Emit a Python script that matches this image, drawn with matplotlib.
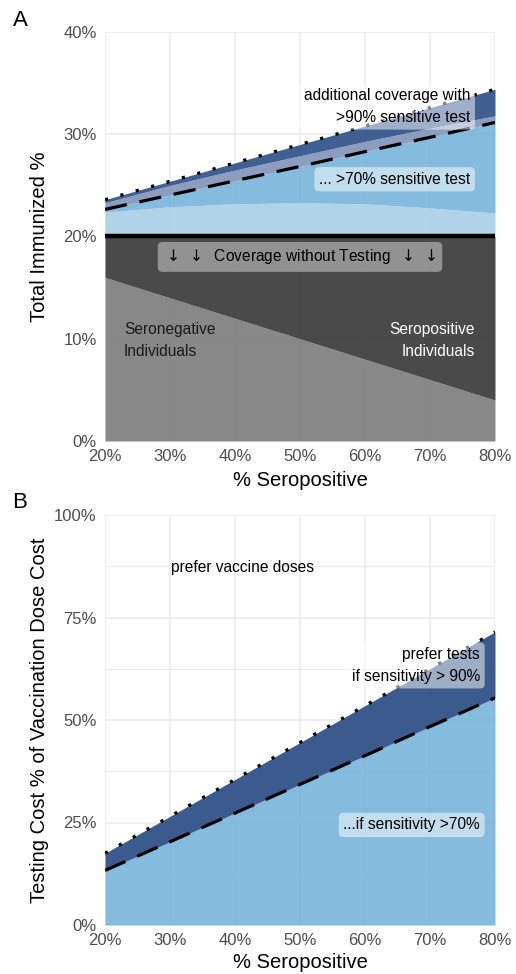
import matplotlib
matplotlib.use('Agg')
import matplotlib.pyplot as plt
from matplotlib.ticker import FixedLocator

plt.rcParams['font.family'] = ['Liberation Sans', 'DejaVu Sans']
plt.rcParams['mathtext.fontset'] = 'dejavusans'

# ---------------- data ----------------
sero = [20, 30, 40, 50, 60, 70, 80]  # % seropositive

# Panel A: total immunized %
a_seroneg = [16, 14, 12, 10, 8, 6, 4]
a_no_test = [20, 20, 20, 20, 20, 20, 20]
a_light = [22.4, 22.9, 23.2, 23.3, 23.2, 22.8, 22.3]
a_sens70 = [22.65, 24.05, 25.45, 26.85, 28.3, 29.7, 31.15]
a_slate = [23.3, 25.0, 26.5, 27.9, 29.3, 30.6, 31.8]
a_sens90 = [23.6, 25.4, 27.2, 29.0, 30.8, 32.6, 34.4]

# Panel B: testing cost % of vaccination dose cost
b_sens70 = [13.3, 20.3, 27.3, 34.3, 41.3, 48.4, 55.4]
b_sens90 = [17.5, 26.5, 35.5, 44.5, 53.5, 62.5, 71.5]

x_ticks = [20, 30, 40, 50, 60, 70, 80]
x_labels = ['20%', '30%', '40%', '50%', '60%', '70%', '80%']
a_yticks = [0, 10, 20, 30, 40]
a_ylabels = ['0%', '10%', '20%', '30%', '40%']
b_yticks = [0, 25, 50, 75, 100]
b_ylabels = ['0%', '25%', '50%', '75%', '100%']
b_yminor = [12.5, 37.5, 62.5, 87.5]

# ---------------- styling ----------------
W, H = 516, 974
fig = plt.figure(figsize=(W / 100, H / 100), dpi=100)
axA = fig.add_axes([105 / W, 533 / H, 390 / W, 409 / H])
axB = fig.add_axes([105 / W, 49 / H, 390 / W, 410 / H])

GRID = '#ebebeb'
TICKC = '#4d4d4d'
ANN = 11.2
LS = 1.55


def base(ax):
    ax.set_axisbelow(True)
    for s in ax.spines.values():
        s.set_visible(False)
    ax.set_xlim(20, 80)
    ax.xaxis.set_major_locator(FixedLocator(x_ticks))
    ax.set_xticklabels(x_labels)
    ax.grid(True, which='major', color=GRID, lw=1.1)
    ax.tick_params(axis='both', length=0, labelsize=12, labelcolor=TICKC)
    ax.tick_params(axis='x', pad=5.5)
    ax.tick_params(axis='y', pad=6)


def fill(ax, lo, hi, col, alpha=0.85):
    ax.fill_between(sero, lo, hi, color=col, alpha=alpha, lw=0)


# ---------------- Panel A ----------------
base(axA)
axA.set_ylim(0, 40)
axA.yaxis.set_major_locator(FixedLocator(a_yticks))
axA.set_yticklabels(a_ylabels)

fill(axA, [0] * 7, a_seroneg, '#7e7e7e', 0.92)
fill(axA, a_seroneg, a_no_test, '#3a3a3a', 0.92)
fill(axA, a_no_test, a_light, '#a9cfe7', 0.9)
fill(axA, a_light, a_sens70, '#78b4d9', 0.9)
fill(axA, a_sens70, a_slate, '#8193b8', 0.9)
fill(axA, a_slate, a_sens90, '#2f528a', 0.92)

axA.plot(sero, a_no_test, color='black', lw=3.2, solid_capstyle='butt')
axA.plot(sero, a_sens70, color='black', lw=2.3, ls=(0, (7, 4)), dash_capstyle='butt')
axA.plot(sero, a_sens90, color='black', lw=2.3, ls=(0, (1, 4)), dash_capstyle='butt')

box_w = dict(boxstyle='round,pad=0.3,rounding_size=0.3', fc='white', ec='none', alpha=0.5)
box_g = dict(boxstyle='round,pad=0.35,rounding_size=0.3', fc='white', ec='none', alpha=0.4)

axA.text(76.2, 32.7, 'additional coverage with\n>90% sensitive test', ha='right', va='center',
         multialignment='right', fontsize=ANN, linespacing=LS, color='black', bbox=box_w)
axA.text(76.2, 25.6, '... >70% sensitive test', ha='right', va='center', fontsize=ANN,
         color='black', bbox=box_w)
axA.text(50, 18.0, r'$\downarrow$ $\downarrow$  Coverage without Testing  $\downarrow$ $\downarrow$',
         ha='center', va='center', fontsize=ANN, color='black', bbox=box_g)
axA.text(22.9, 9.8, 'Seronegative\nIndividuals', ha='left', va='center', fontsize=ANN,
         linespacing=LS, color='#1a1a1a')
axA.text(76.9, 9.8, 'Seropositive\nIndividuals', ha='right', va='center', multialignment='right',
         fontsize=ANN, linespacing=LS, color='white')

axA.set_xlabel('% Seropositive', fontsize=14.5, va='center')
axA.xaxis.set_label_coords(0.5, (441 - 480) / 409)
axA.set_ylabel('Total Immunized %', fontsize=14.5, va='center')
axA.yaxis.set_label_coords((40 - 105) / 390, 0.5)

# ---------------- Panel B ----------------
base(axB)
axB.set_ylim(0, 100)
axB.yaxis.set_major_locator(FixedLocator(b_yticks))
axB.yaxis.set_minor_locator(FixedLocator(b_yminor))
axB.set_yticklabels(b_ylabels)
axB.grid(True, which='minor', axis='y', color=GRID, lw=0.8)
axB.tick_params(axis='y', which='minor', length=0)

fill(axB, [0] * 7, b_sens70, '#78b4d9', 0.9)
fill(axB, b_sens70, b_sens90, '#2a4d84', 0.92)
axB.plot(sero, b_sens70, color='black', lw=2.3, ls=(0, (7, 4)), dash_capstyle='butt')
axB.plot(sero, b_sens90, color='black', lw=2.3, ls=(0, (1, 4)), dash_capstyle='butt')

axB.text(41.1, 87.3, 'prefer vaccine doses', ha='center', va='center', fontsize=ANN, color='black')
axB.text(77.7, 63.3, 'prefer tests\nif sensitivity > 90%', ha='right', va='center',
         multialignment='right', fontsize=ANN, linespacing=LS, color='black', bbox=box_w)
axB.text(77.7, 24.4, '...if sensitivity >70%', ha='right', va='center', fontsize=ANN,
         color='black', bbox=box_w)

axB.set_xlabel('% Seropositive', fontsize=14.5, va='center')
axB.xaxis.set_label_coords(0.5, (925 - 963) / 410)
axB.set_ylabel('Testing Cost % of Vaccination Dose Cost', fontsize=14.5, va='center')
axB.yaxis.set_label_coords((40 - 105) / 390, 0.5)

fig.text(20 / W, 1 - 20 / H, 'A', fontsize=16, ha='center', va='center')
fig.text(20 / W, 1 - 503 / H, 'B', fontsize=16, ha='center', va='center')

fig.savefig('out.png', dpi=100)
